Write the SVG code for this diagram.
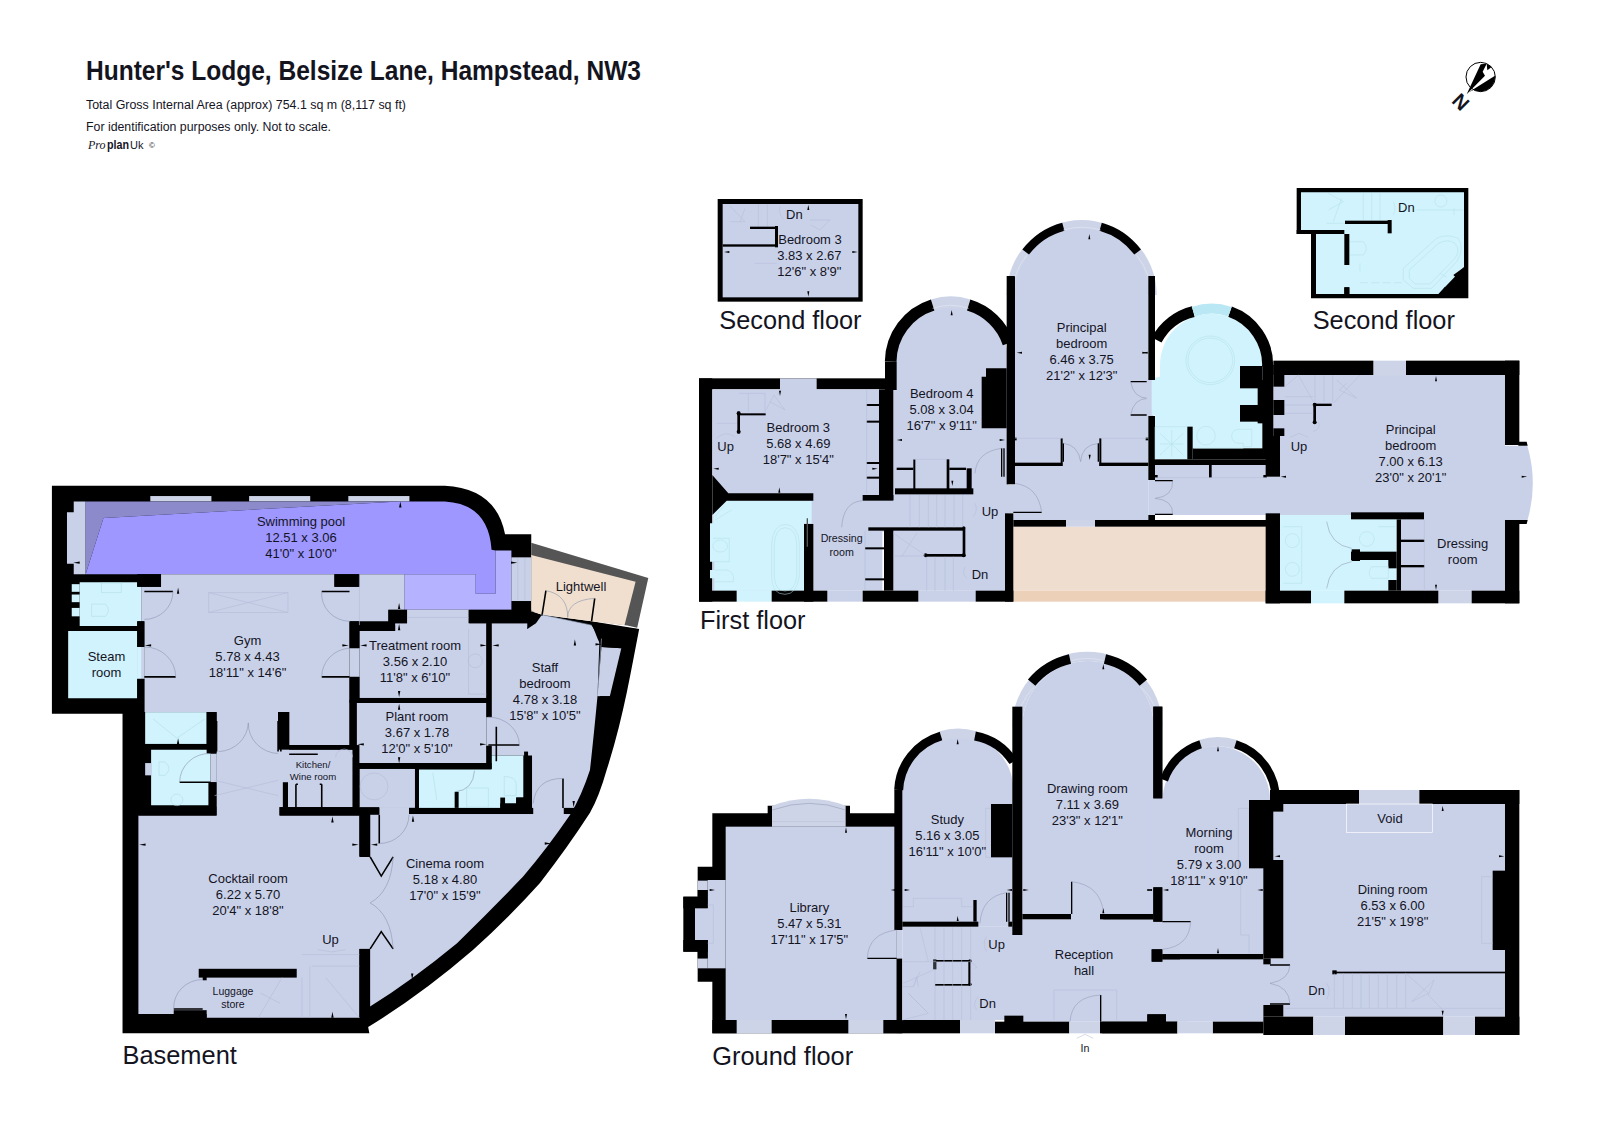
<svg xmlns="http://www.w3.org/2000/svg" width="1600" height="1130" viewBox="0 0 1600 1130">
<style>
text{font-family:"Liberation Sans",Arial,sans-serif;fill:#14141f}
.t{font-size:13px;text-anchor:middle}
.z{font-size:39px;text-anchor:middle}
.zs{font-size:32px;text-anchor:middle}
.fl{font-size:76px}
.k{fill:#000}
.f{fill:#c9d1e9}
.c{fill:#d0f3fd}
.v{fill:#cdd4e8}
.p{fill:#f0dfcf}
.l{stroke:#000;stroke-width:4;fill:none}
.a{stroke:#8d97b0;stroke-width:1.6;fill:none}
.g{stroke:#b4bdd6;stroke-width:1.6;fill:none}
.gc{stroke:#b5dfe9;stroke-width:1.6;fill:none}
.w{fill:none;stroke:#000}
.vs{fill:none;stroke:#cdd4e8}
.hl{fill:none;stroke:#e2e7f3;stroke-width:2}
</style>
<defs>
<path id="tu" d="M0,-8L3,8H-3Z"/>
<path id="td" d="M0,8L3,-8H-3Z"/>
<path id="tl" d="M-8,0L8,-3V3Z"/>
<path id="tr" d="M8,0L-8,-3V3Z"/>
</defs>
<rect width="1600" height="1130" fill="#fff"/>

<g id="header">
<text x="86" y="80" font-size="28" font-weight="700" textLength="555" lengthAdjust="spacingAndGlyphs">Hunter's Lodge, Belsize Lane, Hampstead, NW3</text>
<text x="86" y="109" font-size="12.5" textLength="320" lengthAdjust="spacingAndGlyphs">Total Gross Internal Area (approx) 754.1 sq m (8,117 sq ft)</text>
<text x="86" y="131" font-size="12.5" textLength="245" lengthAdjust="spacingAndGlyphs">For identification purposes only. Not to scale.</text>
<text x="88" y="149" font-size="12" font-style="italic" style="font-family:'Liberation Serif',serif">Pro</text>
<text x="107" y="149" font-size="12" font-weight="700" textLength="22" lengthAdjust="spacingAndGlyphs">plan</text>
<text x="130" y="149" font-size="11">Uk</text>
<text x="149" y="148" font-size="8">©</text>
</g>

<g id="compass" transform="translate(1450,55) scale(.33333)">
<circle cx="92" cy="66" r="44" fill="#fff" stroke="#000" stroke-width="3"/>
<path class="k" d="M50,118L92,28L110,26L98,50L105,62Z"/>
<path class="k" d="M56,112L135,62A44,44 0 0 1 80,108L72,104Z"/>
<path class="k" d="M110,26L125,36L112,46Z"/>
<text x="0" y="0" transform="translate(29,144) rotate(45)" font-size="60" font-weight="700" text-anchor="middle" dominant-baseline="middle">N</text>
</g>

<g id="basement" transform="translate(40,470) scale(.3968,.3831)">
<path class="k" d="M30,41L1020,41Q1150,48 1172,168L1238,168L1238,370L1265,378L1390,395L1510,415C1490,520 1470,650 1428,783Q1410,850 1386,895Q1330,985 1260,1078Q1180,1170 1091,1253Q960,1370 827,1454L830,1470L208,1470L208,636L30,636Z"/>
<path fill="#555" d="M1238,190L1533,282L1505,412L1480,406L1238,370Z"/>
<path class="p" d="M1238,222L1501,292L1473,405L1390,395L1265,378L1238,368Z"/>
<g class="v"><rect x="278" y="68" width="154" height="14"/><rect x="527" y="68" width="154" height="14"/><rect x="777" y="68" width="154" height="14"/></g>
<path class="f" d="M85,82H115V272H85V245H68V110H85Z"/>
<path fill="#8d8acb" d="M115,82H905L160,125L115,272Z"/>
<path fill="#9d97ff" d="M160,125L905,82H1020Q1130,88 1138,208L1148,210V323H1098V272H115Z"/>
<path fill="#b5b3ff" d="M1148,210H1188V365H918V272H1098V323H1148Z"/>
<rect class="f" x="1188" y="228" width="50" height="114"/>
<path class="g" d="M1204,230V340M1222,230V340"/>
<path class="c" d="M100,293H245V305H255V395H245V407H100Z"/>
<g class="c"><rect x="80" y="298" width="20" height="20"/><rect x="80" y="325" width="20" height="20"/><rect x="80" y="360" width="20" height="22"/></g>
<path class="c" d="M71,420H245V462H263V545H245V596H71Z"/>
<path class="f" d="M255,305H305V272H742V305H805V272H918V365H878V395H780V718H628V632H600V880H445V632H263V395H255Z"/>
<rect class="f" x="245" y="462" width="18" height="83"/>
<rect class="c" x="245" y="462" width="10" height="83"/>
<rect class="f" x="445" y="730" width="343" height="150"/>
<rect class="f" x="445" y="875" width="160" height="32"/>
<rect class="c" x="265" y="632" width="155" height="83"/>
<path class="c" d="M280,730H425V740H430V815H425V875H280Z"/>
<rect class="f" x="265" y="765" width="15" height="32"/>
<rect class="f" x="430" y="740" width="15" height="75"/>
<path class="f" d="M805,420H895V400H925V365H1080V400H1125V595H805Z"/>
<rect class="f" x="780" y="465" width="25" height="75"/>
<rect class="f" x="798" y="608" width="327" height="157"/>
<rect class="f" x="1125" y="645" width="25" height="75"/>
<path class="f" d="M1138,400H1228V415L1250,400L1265,378L1390,405L1410,440L1405,590Q1395,700 1386,783Q1365,850 1336,900Q1280,985 1217,1062Q1135,1150 1051,1235Q940,1330 827,1404V1250H800V1010H832V898H1240V745H1138Z"/>
<path class="f" d="M1415,462L1465,465L1435,595L1405,590Z"/>
<path class="f" d="M248,902H805V1430H420V1420H248Z"/>
<rect class="f" x="805" y="780" width="140" height="102"/>
<rect class="f" x="855" y="880" width="75" height="20"/>
<path class="c" d="M955,782H1138V745H1218V855H1200V870H1160V882H955Z"/>
<g class="k">
<rect x="1125" y="400" width="13" height="245"/>
<rect x="1125" y="720" width="13" height="60"/>
<rect x="798" y="765" width="340" height="15"/>
<rect x="945" y="780" width="10" height="102"/>
<rect x="930" y="882" width="313" height="16"/>
<rect x="1220" y="735" width="10" height="147"/>
<rect x="1320" y="882" width="32" height="16"/>
<rect x="1045" y="840" width="10" height="42"/>
<rect x="1160" y="855" width="12" height="27"/>
<rect x="1200" y="855" width="20" height="27"/>
<rect x="780" y="600" width="18" height="130"/>
<rect x="788" y="718" width="17" height="182"/>
<rect x="798" y="595" width="327" height="13"/>
<rect x="612" y="815" width="13" height="65"/>
<rect x="603" y="880" width="202" height="22"/>
<rect x="420" y="632" width="25" height="108"/>
<rect x="425" y="815" width="20" height="65"/>
<rect x="248" y="878" width="197" height="24"/>
<rect x="600" y="632" width="28" height="86"/>
<rect x="628" y="718" width="152" height="12"/>
<rect x="805" y="880" width="50" height="20"/>
<rect x="805" y="900" width="27" height="108"/>
<rect x="805" y="1250" width="27" height="200"/>
<rect x="400" y="1302" width="247" height="23"/>
<rect x="410" y="1322" width="10" height="10"/>
<rect x="337" y="1410" width="83" height="20"/>
<rect x="780" y="395" width="25" height="70"/>
<rect x="780" y="540" width="25" height="68"/>
<rect x="245" y="395" width="18" height="67"/>
<rect x="245" y="545" width="18" height="90"/>
<rect x="245" y="272" width="60" height="33"/>
<rect x="742" y="272" width="63" height="33"/>
<rect x="878" y="365" width="47" height="35"/>
<rect x="805" y="405" width="90" height="15"/>
<rect x="1082" y="365" width="156" height="35"/>
<path d="M1228,415L1262,378L1240,370Z"/>
<path d="M1390,400L1505,415L1465,465L1415,462L1405,440Z"/>
<rect x="1410" y="590" width="30" height="60"/>
</g>
<g class="l">
<path d="M263,317H335M710,317H780M263,540H342M710,540H780"/>
<path d="M352,815H430M1130,718H1208M1150,670V760M855,900V975"/>
<path d="M337,1407H410M1318,805V882"/>
<path d="M832,1010L860,1060L890,1010M832,1250L860,1205L890,1250"/>
<path d="M1275,315L1265,380M1398,335L1390,395"/>
<path d="M445,655V735M438,655V735M600,655V735M607,655V735"/>
<path d="M628,742H700M645,820V880M710,820V880M645,820H650M710,820H705"/>
</g>
<g class="a">
<path d="M335,317A72,72 0 0 1 263,390M710,317A72,72 0 0 0 780,395M342,540A78,78 0 0 0 263,462M710,540A75,75 0 0 1 780,465"/>
<path d="M525,660A78,78 0 0 1 450,735M525,660A78,78 0 0 0 600,740M352,815A75,75 0 0 1 430,740"/>
<path d="M1130,645A78,73 0 0 1 1208,718M855,975A75,75 0 0 0 930,900M1243,870Q1250,805 1318,805M1047,840Q1092,835 1095,785"/>
<path d="M890,1010Q885,1100 832,1130Q885,1160 890,1250M337,1407A73,73 0 0 1 410,1330"/>
<path d="M1275,315Q1330,325 1330,385Q1330,340 1398,335M1265,378L1390,405"/>
</g>
<g class="g">
<path d="M425,320L625,372M425,372L625,320M425,320H625V372H425Z"/>
<path d="M440,810L600,850M440,850L600,810"/>
<circle cx="842" cy="826" r="35"/>
<path d="M660,1265H805M685,1295H805M680,1295V1430M660,1325V1430M720,1325L805,1430M610,1325L550,1430M555,1365L605,1392"/>
<path d="M1080,415V585H1125M1097,480A18,18 0 1 0 1097,516M1097,516A18,18 0 1 0 1097,480"/>
<path d="M805,272V405M925,385H1080"/>
<path d="M745,750A20,20 0 0 1 788,750M700,1252L735,1258L770,1252"/>
<path d="M1415,440L1405,590"/>
</g>
<g class="gc">
<path d="M155,295H205V320H155ZM130,350H165Q180,365 165,382H130Z"/>
<path d="M1170,800Q1200,800 1200,820V850H1170Z"/>
<path d="M300,762H315Q335,780 315,797H300ZM355,850A15,15 0 1 0 356,851"/>
<path d="M285,650L345,700M415,650L345,700M990,790L1000,862"/>
<path d="M1075,830H1130V880H1075Z"/>
</g>
<g class="k">
<use href="#tu" x="908" y="90"/><use href="#tl" x="92" y="242"/><use href="#tr" x="1195" y="242"/><use href="#tu" x="348" y="315"/>
<use href="#tu" x="905" y="355"/><use href="#tu" x="905" y="410"/><use href="#tl" x="272" y="458"/><use href="#tr" x="770" y="458"/>
<use href="#tl" x="815" y="458"/><use href="#tr" x="1118" y="458"/><use href="#tl" x="1148" y="458"/><use href="#td" x="905" y="585"/><use href="#tu" x="905" y="618"/>
<use href="#tl" x="808" y="716"/><use href="#tr" x="1117" y="716"/><use href="#td" x="905" y="758"/><use href="#tu" x="1348" y="450"/><use href="#tr" x="1408" y="455"/>
<use href="#tu" x="348" y="708"/><use href="#tu" x="737" y="912"/><use href="#tl" x="258" y="978"/><use href="#tr" x="795" y="978"/><use href="#tl" x="842" y="978"/>
<use href="#tr" x="1280" y="975"/><use href="#td" x="1345" y="872"/><use href="#tu" x="940" y="910"/><use href="#td" x="938" y="1322"/><use href="#tu" x="737" y="1422"/>
</g>
</g>
<g id="basement-labels">
<text class="t" x="301" y="526">Swimming pool<tspan x="301" dy="16">12.51 x 3.06</tspan><tspan x="301" dy="16">41'0" x 10'0"</tspan></text>
<text class="t" x="247.5" y="645">Gym<tspan x="247.5" dy="16">5.78 x 4.43</tspan><tspan x="247.5" dy="16">18'11" x 14'6"</tspan></text>
<text class="t" x="106.500" y="661">Steam<tspan x="106.500" dy="16">room</tspan></text>
<text class="t" x="415" y="650">Treatment room<tspan x="415" dy="16">3.56 x 2.10</tspan><tspan x="415" dy="16">11'8" x 6'10"</tspan></text>
<text class="t" x="417" y="721">Plant room<tspan x="417" dy="16">3.67 x 1.78</tspan><tspan x="417" dy="16">12'0" x 5'10"</tspan></text>
<text class="t" x="545" y="671.500">Staff<tspan x="545" dy="16">bedroom</tspan><tspan x="545" dy="16">4.78 x 3.18</tspan><tspan x="545" dy="16">15'8" x 10'5"</tspan></text>
<text class="t" x="581" y="591">Lightwell</text>
<text class="t" x="313" y="768" style="font-size:9.6px">Kitchen/<tspan x="313" dy="11.5">Wine room</tspan></text>
<text class="t" x="233" y="995" style="font-size:10.5px">Luggage<tspan x="233" dy="13.4">store</tspan></text>
<text class="t" x="445" y="867.500">Cinema room<tspan x="445" dy="16">5.18 x 4.80</tspan><tspan x="445" dy="16">17'0" x 15'9"</tspan></text>
<text class="t" x="248" y="883">Cocktail room<tspan x="248" dy="16">6.22 x 5.70</tspan><tspan x="248" dy="16">20'4" x 18'8"</tspan></text>
<text class="t" x="330.500" y="944">Up</text>
<text x="122.5" y="1064" font-size="25.4">Basement</text>
</g>

<g id="upper-west" transform="translate(680,180) scale(.33333)">
<g id="second-floor-a">
<rect class="k" x="113" y="57" width="435" height="308"/>
<rect class="f" x="128" y="72" width="407" height="280"/>
<g class="g"><path d="M150,78L195,125L152,125M195,85L180,125M235,72V140M262,72V140M390,120H450L420,150L392,135M225,250H290M300,80Q295,100 310,118"/></g>
<g class="k"><rect x="128" y="193" width="162" height="7"/><rect x="210" y="140" width="80" height="7"/><rect x="285" y="138" width="9" height="64"/></g>
<g class="k"><use href="#tu" x="385" y="82"/><use href="#tl" x="140" y="216"/><use href="#tr" x="525" y="216"/><use href="#td" x="385" y="342"/></g>
<text class="z" x="343" y="118">Dn</text>
<text class="z" x="390" y="193">Bedroom 3<tspan x="388" dy="48">3.83 x 2.67</tspan><tspan x="388" dy="48">12'6" x 8'9"</tspan></text>
<text class="fl" x="118" y="447">Second floor</text>
</g>
<g id="first-floor-w">
<rect x="1000" y="1040" width="760" height="192" fill="#efddcf"/>
<rect x="1000" y="1232" width="760" height="33" fill="#ecd0b8"/>
<rect class="k" x="57" y="595" width="558" height="33"/>
<rect class="k" x="57" y="595" width="40" height="670"/>
<rect class="f" x="97" y="628" width="510" height="604"/>
<rect class="f" x="300" y="595" width="110" height="35"/>
<rect class="f" x="600" y="945" width="45" height="110"/>
<path class="f" d="M640,1232V545A172,172 0 0 1 985,545V1232Z"/>
<path class="v" d="M980,345A225,225 0 0 1 1430,345Z"/>
<path class="f" d="M1005,345A200,200 0 0 1 1405,345V1020H1000V1000H975V915H1005Z"/>
<path class="c" d="M100,1000L140,962H395V1030H372V1232H103V1195H90V1170H103V1145H90V1030H100Z"/>
<rect class="c" x="170" y="1232" width="105" height="33"/><rect class="f" x="442" y="1232" width="106" height="33"/><rect class="f" x="715" y="1232" width="172" height="33"/><rect class="v" x="1158" y="1020" width="87" height="20"/>
<g class="k">
<rect x="597" y="628" width="43" height="332"/>
<rect x="615" y="545" width="35" height="85"/>
<rect x="612" y="1050" width="28" height="182"/>
<path d="M97,885L145,940H400V962H140L97,1005Z"/>
<rect x="372" y="1032" width="28" height="233"/>
<rect x="57" y="1232" width="113" height="33"/><rect x="275" y="1232" width="167" height="33"/><rect x="548" y="1232" width="167" height="33"/><rect x="887" y="1232" width="113" height="33"/>
<rect x="975" y="1000" width="25" height="265"/>
<rect x="565" y="1042" width="287" height="10"/><rect x="848" y="1042" width="8" height="88"/><rect x="735" y="1122" width="120" height="8"/>
<rect x="645" y="925" width="235" height="18"/>
<rect x="548" y="945" width="92" height="17"/>
<rect x="650" y="863" width="50" height="7"/><rect x="700" y="838" width="6" height="90"/><rect x="800" y="838" width="8" height="90"/><rect x="808" y="863" width="50" height="7"/><rect x="860" y="865" width="15" height="70"/>
<rect x="560" y="672" width="37" height="6"/><rect x="560" y="722" width="37" height="6"/><rect x="560" y="846" width="37" height="6"/><rect x="560" y="890" width="37" height="6"/>
<rect x="555" y="1102" width="57" height="6"/><rect x="555" y="1195" width="57" height="6"/>
<path d="M905,590H918V565H980V745H905Z"/>
<rect x="980" y="288" width="25" height="625"/>
<rect x="1005" y="848" width="142" height="10"/><rect x="1142" y="775" width="6" height="83"/><rect x="1258" y="775" width="6" height="83"/><rect x="1258" y="848" width="147" height="10"/>
<rect x="1000" y="1020" width="158" height="20"/><rect x="1245" y="1020" width="515" height="20"/>
<rect x="1405" y="1005" width="20" height="15"/>
<rect x="1000" y="773" width="10" height="8"/><rect x="1397" y="773" width="8" height="8"/>
<rect x="172" y="695" width="8" height="65"/><rect x="172" y="700" width="85" height="6"/><circle cx="176" cy="755" r="6"/><circle cx="176" cy="700" r="6"/>
<circle cx="851" cy="1044" r="5"/><circle cx="851" cy="1126" r="6"/><circle cx="737" cy="1126" r="6"/>
</g>
<path class="vs" stroke-width="35" d="M758,375A180,180 0 0 1 866,375"/>
<g class="w">
<path stroke-width="35" d="M632,545A180,180 0 0 1 758,375M866,375A180,180 0 0 1 985,490"/>
<path stroke-width="25" d="M1037,216A212,212 0 0 1 1150,140M1262,140A212,212 0 0 1 1373,216"/>
</g>
<path class="hl" d="M1005,290A202,202 0 0 1 1040,226M1370,226A202,202 0 0 1 1405,290M1150,150A202,202 0 0 1 1262,150M758,385A170,170 0 0 1 866,385"/>
<g class="g">
<path d="M560,628V940M555,1052V1232M690,945V1042M718,945V1042M745,945V1042M770,945V1042M795,945V1042M822,945V1042M848,945V1042M740,1130V1232M765,1130V1232M795,1130V1232M820,1130V1232"/>
<path d="M640,1060L735,1125M710,1060L665,1130M640,1128H735"/>
<path d="M177,640H255V700M205,640V695M258,690L282,645L315,690L270,665M305,628L292,645"/>
<path d="M110,730H170M110,775Q135,750 165,770M885,970Q895,990 880,1010M855,1160Q845,1180 860,1195"/>
<path d="M1005,775H1145M1262,775H1405"/>
<path d="M700,838H800"/>
</g>
<g class="gc"><path d="M275,1090Q280,1035 315,1033Q355,1035 358,1090V1190Q350,1243 315,1243Q275,1243 275,1190Z"/><path d="M283,1090Q287,1045 315,1043Q348,1045 350,1090V1190Q345,1233 315,1233Q285,1233 283,1190Z"/><path d="M100,1075H148V1145H100M120,1080A22,18 0 1 0 121,1080M105,1170H140Q165,1175 160,1205H105M130,980L105,1010M155,990L105,1020"/></g>
<g class="l">
<path d="M965,805V890M972,805V890M1000,997H1085"/>
<path d="M1150,790V845M1255,790V845M1352,605H1405M1352,705H1405M1425,902H1478M1425,1003H1478"/>
<path d="M382,1015V1100" stroke="#555"/>
</g>
<g class="a">
<path d="M885,880Q890,815 965,805M1085,997Q1075,920 1005,910M485,1042Q490,965 548,962"/>
<path d="M1150,790Q1195,795 1202,845Q1205,795 1255,790M1352,605Q1360,655 1405,655Q1360,655 1352,705"/>
<path d="M1478,902Q1480,950 1425,955Q1480,960 1478,1003"/>
</g>
<g class="k"><use href="#tu" x="815" y="398"/><use href="#tu" x="1228" y="170"/><use href="#tl" x="1018" y="518"/><use href="#tr" x="1395" y="518"/>
<use href="#tl" x="658" y="780"/><use href="#tr" x="967" y="780"/><use href="#td" x="300" y="640"/><use href="#tl" x="108" y="866"/><use href="#tr" x="585" y="866"/><use href="#tu" x="298" y="930"/><use href="#td" x="817" y="910"/><use href="#td" x="1229" y="832"/></g>
<text class="z" x="785" y="653">Bedroom 4<tspan x="785" dy="48">5.08 x 3.04</tspan><tspan x="785" dy="48">16'7" x 9'11"</tspan></text>
<text class="z" x="355" y="757">Bedroom 3<tspan x="355" dy="48">5.68 x 4.69</tspan><tspan x="355" dy="48">18'7" x 15'4"</tspan></text>
<text class="z" x="137" y="813">Up</text>
<text class="z" x="930" y="1008">Up</text>
<text class="z" x="900" y="1197">Dn</text>
<text class="zs" x="485" y="1087">Dressing<tspan x="485" dy="40">room</tspan></text>
<text class="z" x="1205" y="457">Principal<tspan x="1205" dy="48">bedroom</tspan><tspan x="1205" dy="48">6.46 x 3.75</tspan><tspan x="1205" dy="48">21'2" x 12'3"</tspan></text>
<text class="fl" x="60" y="1347">First floor</text>
</g>
</g>

<g id="upper-east" transform="translate(1100,180) scale(.33333)">
<g id="second-floor-b">
<path class="k" d="M590,24H1105V355H633V162H590Z"/>
<path class="c" d="M603,37H1092V262L1015,342H748V322H733V342H648V150H603Z"/>
<g class="k">
<rect x="590" y="150" width="143" height="12"/>
<rect x="733" y="162" width="15" height="93"/><rect x="733" y="322" width="15" height="22"/>
<rect x="735" y="122" width="138" height="10"/><rect x="863" y="120" width="12" height="40"/>
<path d="M1092,262V345H1015L1035,320L1060,335L1085,310L1060,285Z"/>
</g>
<g class="gc"><path d="M685,40L730,65L685,90M725,55L700,125M680,130H735M790,40V120M815,40V120M840,40V120M880,65Q890,85 880,105"/>
<path d="M1022,45A18,18 0 1 0 1023,45M950,90H1090M1062,85V105"/><path d="M750,185H790Q808,205 790,225H750"/><path d="M910,265L1010,175Q1040,160 1075,175Q1095,205 1070,245L995,325H940L910,300ZM928,270L1015,190Q1045,175 1065,190Q1085,215 1060,240L990,312H945L928,295Z"/><path d="M780,250V280M780,308H905M1020,280L1045,295" stroke-dasharray="24 10"/></g>
<text class="z" x="919" y="95">Dn</text>
<text class="fl" x="638" y="447">Second floor</text>
</g>
<g id="first-floor-e">
<rect class="f" x="140" y="595" width="20" height="115"/>
<rect class="f" x="145" y="900" width="30" height="105"/>
<rect class="f" x="165" y="855" width="375" height="150"/>
<rect class="f" x="520" y="585" width="695" height="420"/>
<rect class="f" x="903" y="1005" width="312" height="227"/>
<rect class="v" x="820" y="542" width="98" height="45"/>
<path class="f" d="M1215,797H1282Q1315,910 1282,1022H1215Z"/>
<path class="c" d="M180,590V555A153,153 0 0 1 487,555V805H278V838H165V705H155V595Z"/>
<rect class="c" x="540" y="1005" width="350" height="227"/>
<rect class="c" x="633" y="1232" width="100" height="38"/>
<rect class="v" x="1015" y="1232" width="100" height="38"/>
<g class="k">
<rect x="520" y="542" width="300" height="43"/><rect x="918" y="542" width="340" height="43"/>
<rect x="1215" y="542" width="43" height="253"/><rect x="1215" y="1020" width="43" height="250"/>
<path d="M1255,785H1280L1283,797H1255ZM1255,1020H1283L1280,1032H1255Z"/>
<rect x="497" y="1000" width="43" height="270"/><rect x="497" y="1232" width="136" height="38"/><rect x="733" y="1232" width="282" height="38"/><rect x="1115" y="1232" width="143" height="38"/>
<rect x="753" y="997" width="219" height="21"/><rect x="890" y="1018" width="13" height="214"/><rect x="753" y="1115" width="137" height="25"/><rect x="865" y="1140" width="25" height="25"/><rect x="865" y="1200" width="25" height="32"/>
<rect x="903" y="1079" width="70" height="7"/><rect x="903" y="1155" width="70" height="7"/>
<rect x="487" y="555" width="33" height="280"/><rect x="473" y="600" width="20" height="130"/><rect x="420" y="558" width="67" height="67"/><rect x="420" y="675" width="67" height="50"/>
<rect x="520" y="555" width="33" height="65"/><rect x="520" y="660" width="33" height="45"/><rect x="520" y="745" width="33" height="23"/><rect x="497" y="768" width="43" height="122"/>
<rect x="262" y="740" width="16" height="98"/><rect x="165" y="838" width="335" height="17"/><rect x="278" y="805" width="222" height="33"/>
<rect x="327" y="855" width="8" height="38"/><rect x="145" y="288" width="20" height="312"/><rect x="145" y="708" width="20" height="192"/><rect x="165" y="885" width="8" height="8"/><rect x="490" y="885" width="10" height="8"/>
<rect x="640" y="670" width="8" height="60"/><rect x="640" y="671" width="55" height="7"/><circle cx="644" cy="674" r="6"/><circle cx="644" cy="727" r="6"/>
</g>
<g class="w"><path stroke-width="33" d="M170,480A170,170 0 0 1 280,395M390,395A170,170 0 0 1 503,560"/></g>
<path d="M280,395A170,170 0 0 1 390,395" fill="none" stroke="#b9e8f4" stroke-width="30"/>
<path class="g" d="M555,620L595,585L640,665M645,585V665M672,585V665M698,585V665M555,650H640M555,675H640M555,700H640M780,585L700,670M710,600L770,655L718,630L740,610M655,725Q665,745 640,755M570,772L597,760L625,772M165,893H500"/>
<g class="gc"><circle cx="331" cy="541" r="73"/><circle cx="331" cy="541" r="67"/><path d="M165,838V740H262M180,760L250,825M250,760L180,825M215,750V830M180,792H250"/><circle cx="318" cy="767" r="28"/><path d="M395,770Q395,750 415,748H455V800H430V790H415Q395,785 395,770M280,805H430"/>
<circle cx="577" cy="1082" r="21"/><circle cx="577" cy="1168" r="21"/><path d="M550,1040H605V1210H550M800,1055A22,22 0 1 0 801,1055M835,1040H885M815,1160H865V1195H815Q800,1180 815,1160"/></g>
<g class="g"><path d="M973,1020V1232"/></g>
<g class="a"><path d="M680,1025Q690,1095 755,1105M680,1225Q690,1155 755,1145M218,902Q220,950 165,955Q220,960 218,1003"/></g>
<g class="l"><path d="M165,902H218M165,1003H218"/></g>
<g class="k"><rect x="755" y="1108" width="25" height="35"/><use href="#tu" x="1008" y="596"/><use href="#tr" x="1273" y="890"/><use href="#tl" x="550" y="890"/><use href="#td" x="1008" y="1222"/><use href="#tl" x="135" y="518"/></g>
<text class="z" x="932" y="763">Principal<tspan x="932" dy="48">bedroom</tspan><tspan x="932" dy="48">7.00 x 6.13</tspan><tspan x="932" dy="48">23'0" x 20'1"</tspan></text>
<text class="z" x="597" y="813">Up</text>
<text class="z" x="1088" y="1103">Dressing<tspan x="1088" dy="48">room</tspan></text>
</g>
</g>

<g id="ground-west" transform="translate(680,640) scale(.33333)">
<path class="k" d="M97,520H263V497H510V520H650V1180H97V1025H53V985H53V955H53V935H10V770H53V680H97Z"/>
<rect class="f" x="137" y="560" width="513" height="580"/>
<rect class="f" x="83" y="720" width="54" height="265"/>
<path class="v" d="M276,497Q388,455 497,497V560H276Z"/>
<rect class="v" x="53" y="722" width="30" height="28"/><rect class="v" x="53" y="955" width="30" height="30"/>
<rect class="k" x="53" y="750" width="30" height="20"/><rect class="k" x="53" y="900" width="30" height="55"/><rect class="k" x="10" y="770" width="73" height="35"/><rect class="k" x="10" y="900" width="73" height="35"/>
<rect class="f" x="45" y="805" width="55" height="95"/>
<path class="g" d="M83,795H100V910H83M276,545H497"/>
<path class="a" d="M277,510Q388,470 497,510"/>
<rect class="k" x="643" y="450" width="27" height="420"/>
<rect class="k" x="650" y="955" width="17" height="225"/>
<path class="f" d="M667,450A166,166 0 0 1 1000,450V860H667Z"/>
<rect class="f" x="650" y="870" width="17" height="85"/>
<rect class="f" x="667" y="860" width="333" height="280"/>
<rect class="f" x="995" y="885" width="35" height="255"/>
<path class="f" d="M1027,260A197,197 0 0 1 1421,260V825H1027Z"/>
<rect class="f" x="1025" y="838" width="500" height="307"/>
<rect class="f" x="1170" y="818" width="103" height="24"/>
<path class="f" d="M1415,475H1500V842H1415Z"/>
<path class="v" d="M997,260A225,225 0 0 1 1447,260H1421A197,197 0 0 0 1027,260Z"/>
<path class="vs" stroke-width="30" d="M783,288A176.500,176.500 0 0 1 885,288"/>
<g class="w">
<path stroke-width="27" d="M656,450A176.500,176.500 0 0 1 783,288M885,288A176.500,176.500 0 0 1 1000,365"/>
<path stroke-width="29" d="M1055,128A211,211 0 0 1 1170,57M1275,57A211,211 0 0 1 1390,128"/>
</g>
<path class="hl" d="M1023,200A190,190 0 0 1 1060,142M1385,142A190,190 0 0 1 1424,200M1172,62A190,190 0 0 1 1272,62"/>
<g class="k">
<rect x="997" y="200" width="30" height="685"/>
<rect x="1420" y="200" width="27" height="275"/>
<rect x="1420" y="742" width="27" height="103"/>
<rect x="1027" y="822" width="146" height="16"/><rect x="1270" y="822" width="150" height="16"/>
<rect x="933" y="492" width="64" height="160"/>
<rect x="667" y="845" width="228" height="15"/><rect x="880" y="780" width="10" height="65"/>
<rect x="985" y="845" width="12" height="15"/>
<rect x="1415" y="928" width="32" height="37"/><rect x="1447" y="942" width="60" height="16"/>
<rect x="945" y="1145" width="223" height="35"/><rect x="973" y="1127" width="57" height="20"/>
<rect x="1265" y="1145" width="227" height="35"/><rect x="1402" y="1123" width="56" height="24"/>
<rect x="610" y="1140" width="230" height="40"/><rect x="97" y="1140" width="73" height="40"/><rect x="275" y="1140" width="230" height="40"/>
<rect x="765" y="960" width="105" height="6"/><rect x="865" y="960" width="7" height="75"/><rect x="765" y="1032" width="105" height="5"/><rect x="760" y="958" width="9" height="30"/><circle cx="870" cy="1033" r="5"/><circle cx="870" cy="963" r="5"/>
</g>
<rect class="v" x="170" y="1140" width="105" height="40"/><rect class="v" x="505" y="1140" width="105" height="40"/><rect class="v" x="840" y="1140" width="105" height="40"/><rect class="v" x="1168" y="1145" width="97" height="35"/>
<g class="l"><path d="M562,955H650M980,758V845M987,758V845M1175,725V822M1262,1065V1145"/></g>
<g class="a"><path d="M562,955Q565,880 650,870M900,850Q905,770 980,758M1175,725Q1260,735 1270,815M1170,1145Q1175,1070 1262,1065"/></g>
<g class="g"><path d="M700,775H845V800H880M700,775V800H670M720,862L745,965M765,862V1140M792,862V1140M818,862V1140M845,862V1140M872,862V1140M667,965H870Q900,985 885,985M667,1140L745,1120L685,1060L740,1115M667,1040L700,1040L720,995M670,1030L760,990M700,1040L710,1010L715,1040M1122,1140V1050H1310V1140M920,890Q905,910 920,935M895,1070Q875,1090 890,1110M917,505H933M917,505V652H933M1190,1195L1215,1183L1240,1195"/></g>
<g class="k"><use href="#tu" x="1270" y="80"/><use href="#tu" x="833" y="305"/><use href="#tu" x="498" y="570"/><use href="#td" x="498" y="1130"/><use href="#tr" x="97" y="750"/><use href="#tl" x="640" y="750"/><use href="#tr" x="682" y="750"/><use href="#tl" x="988" y="750"/><use href="#tr" x="1038" y="750"/><use href="#tl" x="1408" y="750"/><use href="#tr" x="1458" y="750"/><use href="#tu" x="1270" y="812"/><use href="#tu" x="833" y="835"/></g>
<text class="z" x="388" y="815">Library<tspan x="388" dy="48">5.47 x 5.31</tspan><tspan x="388" dy="48">17'11" x 17'5"</tspan></text>
<text class="z" x="802" y="553">Study<tspan x="802" dy="48">5.16 x 3.05</tspan><tspan x="802" dy="48">16'11" x 10'0"</tspan></text>
<text class="z" x="1222" y="460">Drawing room<tspan x="1222" dy="48">7.11 x 3.69</tspan><tspan x="1222" dy="48">23'3" x 12'1"</tspan></text>
<text class="z" x="1212" y="958">Reception<tspan x="1212" dy="48">hall</tspan></text>
<text class="z" x="950" y="926">Up</text>
<text class="z" x="923" y="1105">Dn</text>
<text class="zs" x="1215" y="1237">In</text>
<text class="fl" x="97" y="1275">Ground floor</text>
</g>

<g id="ground-east" transform="translate(1100,640) scale(.33333)">
<rect class="f" x="240" y="838" width="250" height="307"/>
<rect class="f" x="188" y="480" width="322" height="465"/>
<path class="f" d="M188,480A161,161 0 0 1 510,480Z"/>
<rect class="f" x="485" y="955" width="70" height="140"/>
<rect class="f" x="550" y="492" width="665" height="638"/>
<rect class="f" x="520" y="515" width="35" height="145"/>
<rect class="v" x="777" y="450" width="181" height="44"/>
<path class="vs" stroke-width="28" d="M302,313A172,172 0 0 1 406,313"/>
<g class="w"><path stroke-width="25" d="M192,420A172,172 0 0 1 302,313M406,313A172,172 0 0 1 527,480"/></g>
<g class="k">
<rect x="160" y="200" width="27" height="275"/>
<rect x="160" y="742" width="27" height="103"/>
<rect x="0" y="822" width="160" height="16"/>
<rect x="155" y="928" width="32" height="37"/>
<rect x="187" y="942" width="303" height="16"/>
<rect x="447" y="480" width="63" height="205"/>
<rect x="490" y="660" width="60" height="295"/>
<rect x="510" y="450" width="267" height="42"/><rect x="958" y="450" width="300" height="42"/>
<rect x="510" y="492" width="40" height="23"/>
<rect x="490" y="480" width="30" height="200"/>
<rect x="1215" y="450" width="43" height="735"/>
<rect x="1178" y="692" width="37" height="238"/>
<rect x="490" y="1130" width="150" height="55"/><rect x="735" y="1130" width="295" height="55"/><rect x="1125" y="1130" width="133" height="55"/>
<rect x="490" y="1095" width="60" height="35"/>
<rect x="490" y="955" width="22" height="18"/>
<rect x="703" y="995" width="512" height="5"/><rect x="697" y="991" width="13" height="12"/>
<rect x="0" y="1145" width="232" height="35"/><rect x="142" y="1123" width="56" height="24"/><rect x="338" y="1145" width="152" height="35"/>
</g>
<rect class="v" x="640" y="1130" width="95" height="55"/><rect class="v" x="1030" y="1130" width="95" height="55"/>
<rect class="v" x="232" y="1145" width="106" height="35"/>
<rect x="740" y="492" width="258" height="86" fill="none" stroke="#fff" stroke-width="2"/>
<g class="l"><path d="M187,845H272M510,975H570M510,1092H570"/></g>
<g class="a"><path d="M272,845Q268,920 187,928M570,975Q568,1020 510,1030Q568,1040 570,1092"/></g>
<g class="g"><path d="M415,505H447M415,505V720H422V885H447M447,885V940M1145,710H1178M1145,710V910H1178M703,1000V1105M730,1000V1105M757,1000V1105M783,1000V1105M808,1000V1105M835,1000V1105M862,1000V1105M890,1000V1105M917,1000V1105M555,1105H1210M917,1000L985,1060L935,1085L1002,1020L985,1065L1030,1112M680,1030Q695,1050 680,1078"/></g>
<g class="k"><use href="#tu" x="354" y="326"/><use href="#tu" x="354" y="932"/><use href="#tl" x="480" y="750"/><use href="#tl" x="532" y="649"/><use href="#tr" x="1205" y="649"/><use href="#tu" x="1028" y="505"/><use href="#td" x="1028" y="1120"/><use href="#tr" x="150" y="750"/><use href="#tl" x="197" y="750"/></g>
<text class="z" x="327" y="592">Morning<tspan x="327" dy="48">room</tspan><tspan x="327" dy="48">5.79 x 3.00</tspan><tspan x="327" dy="48">18'11" x 9'10"</tspan></text>
<text class="z" x="870" y="548">Void</text>
<text class="z" x="878" y="762">Dining room<tspan x="878" dy="48">6.53 x 6.00</tspan><tspan x="878" dy="48">21'5" x 19'8"</tspan></text>
<text class="z" x="650" y="1065">Dn</text>
</g>
</svg>
